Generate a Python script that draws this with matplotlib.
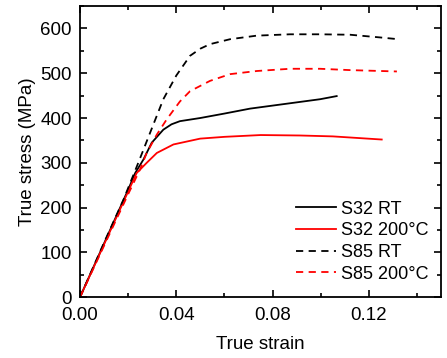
import matplotlib
matplotlib.use("Agg")
import matplotlib.pyplot as plt
from matplotlib.ticker import MultipleLocator, FormatStrFormatter

plt.rcParams["font.family"] = ["Liberation Sans", "DejaVu Sans"]
plt.rcParams["font.size"] = 13.5

# valores
s32_rt_strain = [0, 0.01, 0.02, 0.0229, 0.0263, 0.0298, 0.0346, 0.0380, 0.0415, 0.0499, 0.06, 0.0706, 0.0914, 0.0997, 0.1066]
s32_rt_stress = [0, 120, 240, 277, 307, 345, 374, 386, 393, 400, 410, 421, 436, 442, 449]

s32_200_strain = [0, 0.01, 0.02, 0.0235, 0.0277, 0.0319, 0.0388, 0.0499, 0.06, 0.075, 0.0914, 0.105, 0.1253]
s32_200_stress = [0, 118, 236, 277, 300, 322, 341, 354, 358, 362, 361, 359, 352]

s85_rt_strain = [0, 0.01, 0.018, 0.0242, 0.0291, 0.0346, 0.040, 0.0457, 0.050, 0.054, 0.0623, 0.0734, 0.0872, 0.0997, 0.1122, 0.1246, 0.1322]
s85_rt_stress = [0, 122, 217, 300, 367, 442, 495, 539, 555, 565, 576, 584, 587, 587, 586, 580, 576]

s85_200_strain = [0, 0.01, 0.02, 0.0249, 0.0277, 0.0319, 0.036, 0.0415, 0.0457, 0.054, 0.0623, 0.0734, 0.0872, 0.0997, 0.1122, 0.1316]
s85_200_stress = [0, 115, 230, 285, 322, 363, 397, 437, 460, 483, 498, 505, 510, 510, 507, 504]

fig = plt.figure(figsize=(4.47, 3.58), dpi=100)
ax = fig.add_axes([0.179, 0.170, 0.808, 0.813])

lw = 1.3
ax.plot(s32_rt_strain, s32_rt_stress, color="black", lw=lw, label="S32 RT")
ax.plot(s32_200_strain, s32_200_stress, color="red", lw=lw, label="S32 200°C")
ax.plot(s85_rt_strain, s85_rt_stress, color="black", lw=lw, ls=(0, (4, 3)), label="S85 RT")
ax.plot(s85_200_strain, s85_200_stress, color="red", lw=lw, ls=(0, (4, 3)), label="S85 200°C")

ax.set_xlim(0, 0.15)
ax.set_ylim(0, 650)
ax.xaxis.set_major_locator(MultipleLocator(0.04))
ax.xaxis.set_minor_locator(MultipleLocator(0.02))
ax.yaxis.set_major_locator(MultipleLocator(100))
ax.yaxis.set_minor_locator(MultipleLocator(50))
ax.xaxis.set_major_formatter(FormatStrFormatter("%.2f"))
ax.tick_params(which="both", direction="in", top=True, right=True, width=1.2)
ax.tick_params(which="major", length=5, labelsize=13.5)
ax.tick_params(axis="x", which="major", pad=7)
ax.tick_params(axis="y", which="major", pad=6)
ax.tick_params(which="minor", length=3)
for sp in ax.spines.values():
    sp.set_linewidth(1.3)

ax.set_xlabel("True strain", fontsize=13.5, labelpad=9)
ax.set_ylabel("True stress (MPa)", fontsize=13.5, labelpad=3)

ax.legend(loc="lower right", frameon=False, fontsize=13, handlelength=2.2,
          handletextpad=0.3, labelspacing=0.26, borderaxespad=0.0,
          bbox_to_anchor=(0.985, 0.025))

fig.savefig("out.png", dpi=100)
